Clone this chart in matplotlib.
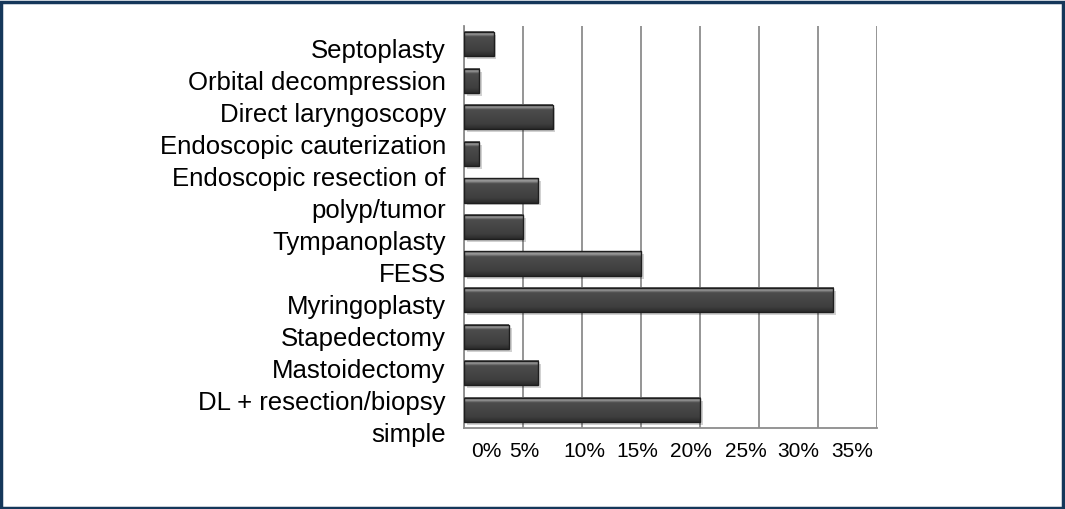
import matplotlib
matplotlib.use("Agg")
import matplotlib.pyplot as plt
import numpy as np
from matplotlib.patches import Rectangle
from matplotlib.colors import LinearSegmentedColormap

# ---- data (top to bottom) ----
categories = [
    "Septoplasty",
    "Orbital decompression",
    "Direct laryngoscopy",
    "Endoscopic cauterization",
    "Endoscopic resection of\npolyp/tumor",
    "Tympanoplasty",
    "FESS",
    "Myringoplasty",
    "Stapedectomy",
    "Mastoidectomy",
    "DL + resection/biopsy\nsimple",
]
values = [2.5, 1.3, 7.5, 1.3, 6.3, 5.0, 15.0, 31.3, 3.8, 6.3, 20.0]
grid_ticks = [0, 5, 10, 15, 20, 25, 30, 35]
tick_labels = ["0%", "5%", "10%", "15%", "20%", "25%", "30%", "35%"]

# layout: horizontal offsets of tick labels from their gridlines (as in reference)
label_offsets = [1.9, 0.1, 0.2, -0.3, -0.8, -1.1, -1.7, -2.1]

plt.rcParams['font.family'] = ['Liberation Sans', 'DejaVu Sans']

fig = plt.figure(figsize=(10.65, 5.09), dpi=100)
ax = fig.add_axes([0.4357, 0.1591, 0.3878, 0.7898])

n = len(categories)
ypos = np.arange(n)
bar_h = 0.66

grad = np.linspace(0, 1, 64).reshape(-1, 1)
cmap = LinearSegmentedColormap.from_list(
    "barg", [(0.0, "#5a5a5a"), (0.1, "#a0a0a0"), (0.22, "#4c4c4c"),
             (0.8, "#3e3e3e"), (1.0, "#2a2a2a")])

for y, v in zip(ypos, values):
    ax.add_patch(Rectangle((0.25, y - bar_h / 2 + 0.08), v, bar_h,
                           facecolor="#000000", alpha=0.18, linewidth=0, zorder=2))
    ax.imshow(grad, cmap=cmap, aspect="auto",
              extent=(0, v, y + bar_h / 2, y - bar_h / 2), zorder=3,
              interpolation="bilinear")
    ax.add_patch(Rectangle((0, y - bar_h / 2), v, bar_h, facecolor="none",
                           edgecolor="#1e1e1e", linewidth=1.0, zorder=4))

ax.set_xlim(0, 35)
ax.set_ylim(n - 0.5, -0.5)

# vertical gridlines
ax.set_xticks(grid_ticks)
ax.set_xticklabels([])
ax.tick_params(axis="x", which="major", length=0)
ax.grid(axis="x", color="#8c8c8c", linewidth=1.3, zorder=1)
ax.set_axisbelow(True)

# tick labels
label_pos = [t + o for t, o in zip(grid_ticks, label_offsets)]
ax.set_xticks(label_pos, minor=True)
ax.set_xticklabels(tick_labels, minor=True, fontsize=15)
ax.tick_params(axis="x", which="minor", length=0, pad=10)

# category labels: uniformly spaced text lines, as in the reference
ax.set_yticks([])
lines = []
for c in categories:
    lines.extend(c.split("\n"))
top_gap_px, line_px = 25.0, 32.0
ax_h_px = 0.7898 * 509
for i, line in enumerate(lines):
    yf = 1 - (top_gap_px + line_px * i) / ax_h_px
    ax.text(-0.044, yf, line, transform=ax.transAxes, ha="right", va="center",
            fontsize=18.5, color="#000000")

for s in ["top", "right"]:
    ax.spines[s].set_visible(False)
ax.spines["left"].set_color("#8c8c8c")
ax.spines["left"].set_linewidth(1.3)
ax.spines["bottom"].set_color("#8c8c8c")
ax.spines["bottom"].set_linewidth(1.3)

# figure border
fig.patches.append(Rectangle((0.001, 0.002), 0.997, 0.995, transform=fig.transFigure,
                             fill=False, edgecolor="#15375a", linewidth=2.5))

fig.savefig("out.png", dpi=100)
